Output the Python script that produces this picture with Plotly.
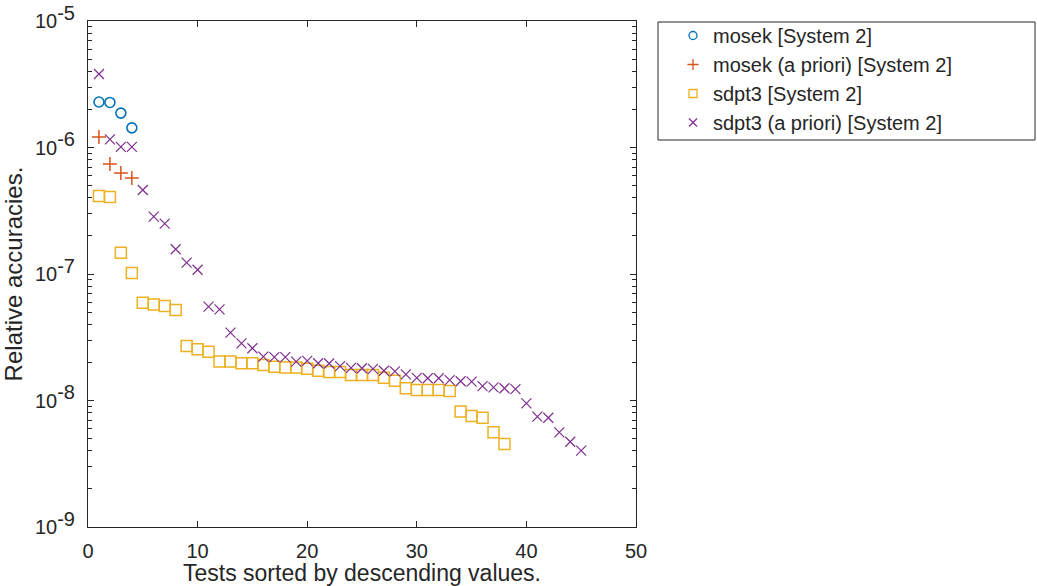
import plotly.graph_objects as go

# ---- data ----
mosek_x = [1, 2, 3, 4]
mosek_y = [2.29e-6, 2.27e-6, 1.87e-6, 1.43e-6]

mosek_ap_x = [1, 2, 3, 4]
mosek_ap_y = [1.21e-6, 7.41e-7, 6.28e-7, 5.74e-7]

sdpt3_x = list(range(1, 39))
sdpt3_y = [4.14e-7, 4.07e-7, 1.47e-7, 1.02e-7, 5.93e-8, 5.75e-8, 5.58e-8, 5.19e-8,
           2.70e-8, 2.54e-8, 2.43e-8, 2.03e-8, 2.03e-8, 1.97e-8, 1.97e-8, 1.91e-8,
           1.85e-8, 1.82e-8, 1.82e-8, 1.78e-8, 1.72e-8, 1.68e-8, 1.68e-8, 1.59e-8,
           1.59e-8, 1.59e-8, 1.51e-8, 1.43e-8, 1.25e-8, 1.21e-8, 1.21e-8, 1.21e-8,
           1.19e-8, 8.17e-9, 7.54e-9, 7.31e-9, 5.60e-9, 4.53e-9]

sdpt3_ap_x = list(range(1, 46))
sdpt3_ap_y = [3.81e-6, 1.16e-6, 1.01e-6, 1.01e-6, 4.61e-7, 2.84e-7, 2.50e-7, 1.57e-7,
              1.23e-7, 1.08e-7, 5.52e-8, 5.26e-8, 3.44e-8, 2.83e-8, 2.59e-8, 2.22e-8,
              2.20e-8, 2.20e-8, 2.03e-8, 2.06e-8, 1.97e-8, 1.96e-8, 1.87e-8, 1.81e-8,
              1.80e-8, 1.78e-8, 1.72e-8, 1.70e-8, 1.61e-8, 1.51e-8, 1.50e-8, 1.50e-8,
              1.45e-8, 1.42e-8, 1.41e-8, 1.30e-8, 1.27e-8, 1.25e-8, 1.23e-8, 9.50e-9,
              7.45e-9, 7.31e-9, 5.60e-9, 4.72e-9, 4.01e-9]

series_names = ["mosek [System 2]", "mosek (a priori) [System 2]",
                "sdpt3 [System 2]", "sdpt3 (a priori) [System 2]"]
series_colors = ["#0072BD", "#D95319", "#EDB120", "#7E2F8E"]
series_symbols = ["circle-open", "cross-thin-open", "square-open", "x-thin-open"]

y_tick_vals = [1e-9, 1e-8, 1e-7, 1e-6, 1e-5]
y_exponents = ["-9", "-8", "-7", "-6", "-5"]
y_tick_text = ["10<sup><span style='font-size:20px'>%s</span></sup>" % e for e in y_exponents]
x_tick_vals = [0, 10, 20, 30, 40, 50]

# ---- figure ----
W, H = 1037, 586
ML, MR, MT, MB = 88, 401, 21, 59
plot_w = W - ML - MR
plot_h = H - MT - MB

series_x = [mosek_x, mosek_ap_x, sdpt3_x, sdpt3_ap_x]
series_y = [mosek_y, mosek_ap_y, sdpt3_y, sdpt3_ap_y]
plot_sizes = [10, 10, 11, 10]
line_widths = [1.6, 1.5, 1.5, 1.2]

fig = go.Figure()
for xs, ys, name, col, sym, sz, lw in zip(series_x, series_y, series_names, series_colors,
                                         series_symbols, plot_sizes, line_widths):
    fig.add_trace(go.Scatter(x=xs, y=ys, mode="markers", name=name, showlegend=False,
                             marker=dict(symbol=sym, size=sz, color=col,
                                         line=dict(width=lw, color=col))))
# legend-only entries with the smaller legend glyphs
for name, col, sym in zip(series_names, series_colors, series_symbols):
    fig.add_trace(go.Scatter(x=[None], y=[None], mode="markers", name=name,
                             marker=dict(symbol=sym, size=8, color=col,
                                         line=dict(width=1.3, color=col))))

minor_vals = [m * 10.0 ** e for e in range(-9, -5) for m in range(2, 10)]

axis_color = "#262626"
fig.update_layout(
    width=W, height=H,
    margin=dict(l=ML, r=MR, t=MT, b=MB, autoexpand=False),
    paper_bgcolor="white", plot_bgcolor="white",
    font=dict(family="Liberation Sans, Arial, sans-serif", size=20, color=axis_color),
    showlegend=True,
    legend=dict(x=(673 - ML) / plot_w, y=1.0 + 5 / plot_h, xanchor="left", yanchor="top",
                bgcolor="rgba(0,0,0,0)", borderwidth=0, tracegroupgap=0,
                font=dict(size=20, color=axis_color)),
    xaxis=dict(range=[0, 50], tickvals=x_tick_vals, ticks="inside", ticklen=6,
               tickcolor=axis_color, showline=True, linecolor=axis_color, linewidth=1,
               mirror="allticks", showgrid=False, zeroline=False,
               ticklabelstandoff=6, tickfont=dict(size=20),
               title=dict(text="Tests sorted by descending values.", standoff=6,
                          font=dict(size=23))),
    yaxis=dict(type="log", range=[-9, -5], tickvals=y_tick_vals, ticktext=y_tick_text,
               ticks="inside", ticklen=6, tickcolor=axis_color, showline=True,
               linecolor=axis_color, linewidth=1, mirror="allticks", showgrid=False,
               zeroline=False, ticklabelstandoff=8, tickfont=dict(size=20),
               minor=dict(tickvals=minor_vals, ticks="inside", ticklen=4,
                          tickcolor=axis_color, showgrid=False),
               title=dict(text="Relative accuracies.", standoff=8, font=dict(size=24))),
    shapes=[dict(type="rect", xref="paper", yref="paper",
                 x0=(658 - ML) / plot_w, x1=(1035 - ML) / plot_w,
                 y0=(H - MB - 140) / plot_h, y1=(H - MB - 22) / plot_h,
                 line=dict(color=axis_color, width=1), fillcolor="rgba(0,0,0,0)")],
)

fig.write_html("out.html")
